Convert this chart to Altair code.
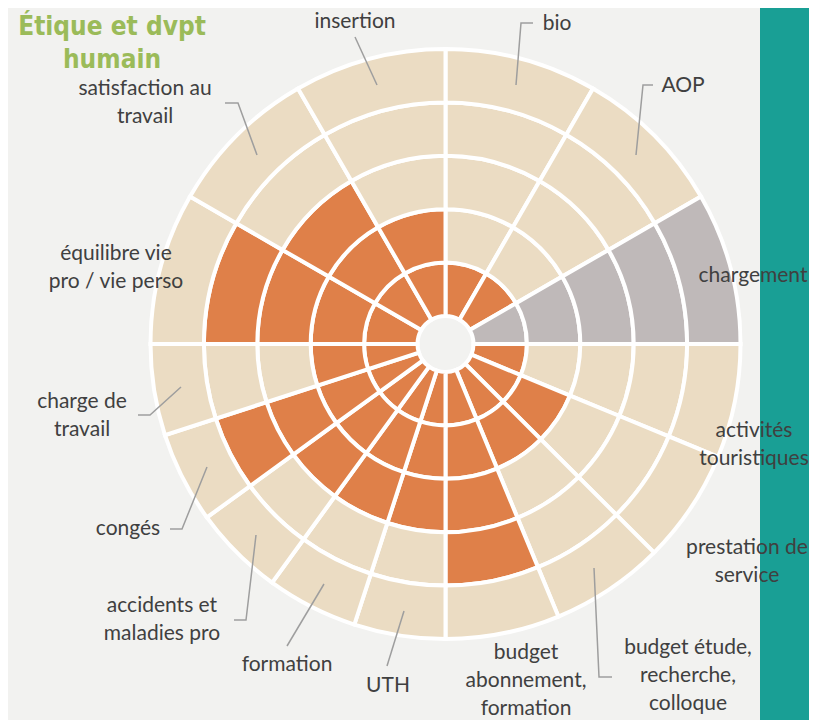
import math
import altair as alt
import pandas as pd

# ---------------- data ----------------
sectors = [
    "bio", "AOP", "chargement",
    "activités touristiques", "prestation de service",
    "budget étude, recherche, colloque", "budget abonnement, formation",
    "UTH", "formation", "accidents et maladies pro", "congés", "charge de travail",
    "équilibre vie pro / vie perso", "satisfaction au travail", "insertion",
]
quadrant = [0, 0, 0, 1, 1, 1, 1, 2, 2, 2, 2, 2, 3, 3, 3]
scores = [1, 1, None, 1, 2, 2, 4, 3, 3, 3, 4, 2, 4, 3, 2]  # None = not applicable
levels = 5

label_text = {
    "bio": "bio",
    "AOP": "AOP",
    "chargement": "chargement",
    "activités touristiques": "activités\ntouristiques",
    "prestation de service": "prestation de\nservice",
    "budget étude, recherche, colloque": "budget étude,\nrecherche,\ncolloque",
    "budget abonnement, formation": "budget\nabonnement,\nformation",
    "UTH": "UTH",
    "formation": "formation",
    "accidents et maladies pro": "accidents et\nmaladies pro",
    "congés": "congés",
    "charge de travail": "charge de\ntravail",
    "équilibre vie pro / vie perso": "équilibre vie\npro / vie perso",
    "satisfaction au travail": "satisfaction au\ntravail",
    "insertion": "insertion",
}
title_text = "Étique et dvpt\nhumain"

# ---------------- layout (page pixels) ----------------
W, H = 801, 712
M = 8  # page margin
CX, CY = 445.5 - M, 344 - M
# centre x, first-line y of each label
label_pos = {
    "insertion": (355, 22), "bio": (557, 24), "AOP": (683, 86),
    "chargement": (753, 276), "activités touristiques": (754, 431),
    "prestation de service": (747, 548),
    "budget étude, recherche, colloque": (688, 648),
    "budget abonnement, formation": (526, 653),
    "UTH": (388, 686), "formation": (287, 665),
    "accidents et maladies pro": (162, 606), "congés": (128, 529),
    "charge de travail": (82, 402), "équilibre vie pro / vie perso": (116, 254),
    "satisfaction au travail": (145, 89),
}
leader_pts = {
    "insertion": [(355, 37), (377, 85)],
    "bio": [(533, 23), (521, 23), (516, 85)],
    "AOP": [(653, 85), (643, 85), (636, 155)],
    "budget étude, recherche, colloque": [(612, 677), (599, 677), (594, 568)],
    "UTH": [(387, 666), (404, 611)],
    "formation": [(287, 646), (324, 584)],
    "accidents et maladies pro": [(234, 620), (246, 620), (256, 535)],
    "congés": [(170, 529), (182, 529), (207, 467)],
    "charge de travail": [(138, 415), (150, 415), (181, 387)],
    "satisfaction au travail": [(225, 103), (238, 103), (257, 155)],
}

# ---------------- tables ----------------
counts = {q: quadrant.count(q) for q in set(quadrant)}
rows = []
seen = {}
for name, q, s in zip(sectors, quadrant, scores):
    j = seen.get(q, 0)
    seen[q] = j + 1
    t0 = 90 * q + 90 * j / counts[q]
    t1 = 90 * q + 90 * (j + 1) / counts[q]
    for k in range(levels):
        if s is None:
            state = "na"
        elif k < s:
            state = "ok"
        else:
            state = "empty"
        rows.append(dict(sector=name, t0=t0, t1=t1, r0=k, r1=k + 1, state=state))
cells = pd.DataFrame(rows)

labels = pd.DataFrame([
    dict(name=n, text=label_text[n], px=label_pos[n][0] - M, py=label_pos[n][1] - M)
    for n in sectors
])
lead_rows = []
for n, pts in leader_pts.items():
    for i, (x, y) in enumerate(pts):
        lead_rows.append(dict(name=n, seq=i, px=x - M, py=y - M))
leaders = pd.DataFrame(lead_rows)
title_df = pd.DataFrame([dict(text=title_text, px=112 - M, py=27 - M)])

xs = alt.Scale(domain=[0, W], range=[0, W], zero=False, nice=False)
ys = alt.Scale(domain=[0, H], range=[0, H], zero=False, nice=False)

band = alt.Chart(pd.DataFrame({"a": [0]})).mark_rect(color="#199F95").encode(
    x=alt.value(760 - M), x2=alt.value(W), y=alt.value(0), y2=alt.value(H)
)

arcs = alt.Chart(cells).mark_arc(stroke="white", strokeWidth=4).encode(
    theta=alt.Theta("t0:Q", scale=alt.Scale(domain=[0, 360], range=[0, 2 * math.pi]), stack=None),
    theta2="t1:Q",
    radius=alt.Radius("r0:Q", scale=alt.Scale(type="linear", domain=[0, levels], range=[28, 295], zero=False)),
    radius2="r1:Q",
    color=alt.Color("state:N", scale=alt.Scale(domain=["ok", "empty", "na"],
                                               range=["#DF8049", "#EBDCC3", "#BFB9B9"]), legend=None),
    x=alt.value(CX),
    y=alt.value(CY),
)

lines = alt.Chart(leaders).mark_line(color="#9E9E9E", strokeWidth=1.5).encode(
    x=alt.X("px:Q", scale=xs, axis=None),
    y=alt.Y("py:Q", scale=ys, axis=None),
    detail="name:N",
    order="seq:Q",
)

texts = alt.Chart(labels).mark_text(
    font="Lato", fontSize=21, color="#404040", lineBreak="\n", lineHeight=28,
    align="center", baseline="middle",
).encode(
    x=alt.X("px:Q", scale=xs, axis=None),
    y=alt.Y("py:Q", scale=ys, axis=None),
    text="text:N",
)

title = alt.Chart(title_df).mark_text(
    font="Liberation Sans Narrow, DejaVu Sans Condensed, sans-serif", fontSize=26,
    fontWeight="bold", color="#9BBB59", lineBreak="\n", lineHeight=33,
    align="center", baseline="middle",
).encode(
    x=alt.X("px:Q", scale=xs, axis=None),
    y=alt.Y("py:Q", scale=ys, axis=None),
    text="text:N",
)

chart = alt.layer(band, arcs, lines, texts, title).properties(
    width=W, height=H, padding=0, autosize=alt.AutoSizeParams(type="none"),
    background="#F2F2F0",
).configure_view(stroke=None)

chart.save("out.html", embed_options={"renderer": "svg", "actions": False})
